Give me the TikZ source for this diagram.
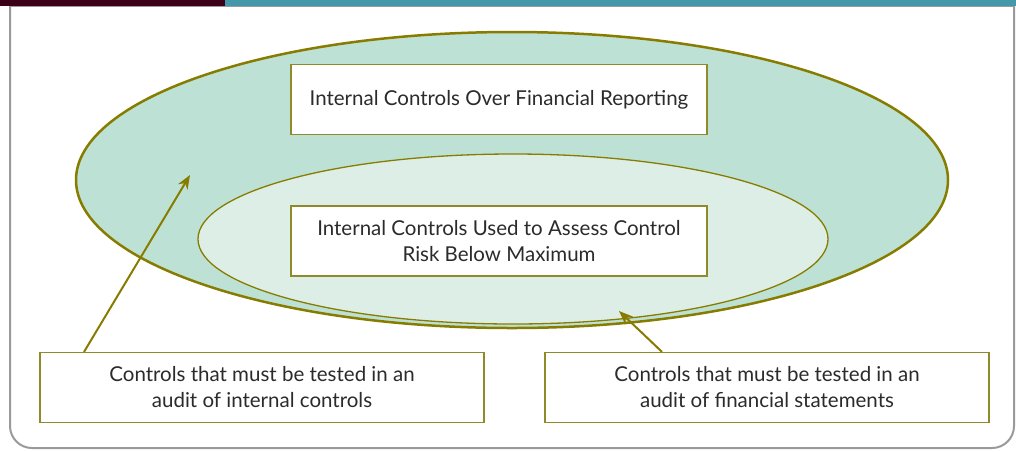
\documentclass[tikz,border=0pt]{standalone}
\usepackage{fontspec}
\setmainfont{Lato}
\usetikzlibrary{arrows.meta,shapes.geometric}
\definecolor{olive}{HTML}{877C00}
\definecolor{boxline}{HTML}{8F8A2A}
\definecolor{outerfill}{HTML}{BDE2D5}
\definecolor{innerfill}{HTML}{DDEEE6}
\definecolor{maroon}{HTML}{3E0019}
\definecolor{tealbar}{HTML}{4398A9}
\definecolor{txt}{HTML}{2B2B2B}
\definecolor{framegray}{HTML}{9A9A9A}
\tikzset{
  textbox/.style={draw=boxline, line width=1.2pt, fill=white, text=txt, align=center,
    font=\fontsize{20.5}{26}\selectfont, inner sep=0pt},
  conn/.style={draw=olive, line width=2pt, -{Stealth[length=14pt,width=11pt]}},
}
\begin{document}
\begin{tikzpicture}[x=1pt,y=-1pt]
\useasboundingbox (0,0) rectangle (1016,451);
% frame
\draw[framegray, line width=2pt, rounded corners=22pt] (10,6) -- (10,448) -- (1014,448) -- (1014,6);
\fill[maroon] (0,0) rectangle (225,5.5);
\fill[tealbar] (225,0) rectangle (1016,5.5);
\draw[framegray, line width=1pt] (10,6) -- (1014,6);
% ellipses
\node[draw=olive, line width=2.5pt, fill=outerfill, ellipse, minimum width=872pt, minimum height=296pt, inner sep=0pt] (outer) at (512,180) {};
\node[draw=olive, line width=1.3pt, fill=innerfill, ellipse, minimum width=630pt, minimum height=170pt, inner sep=0pt] (inner) at (513,239) {};
% boxes
\node[textbox, minimum width=416pt, minimum height=70pt] (icfr) at (499,99.5) {Internal Controls Over Financial Reporting};
\node[textbox, minimum width=416pt, minimum height=70pt] (used) at (499,241) {Internal Controls Used to Assess Control\\Risk Below Maximum};
\node[textbox, minimum width=444pt, minimum height=70pt] (auditic) at (262,387.5) {Controls that must be tested in an\\audit of internal controls};
\node[textbox, minimum width=444pt, minimum height=70pt] (auditfs) at (767,387.5) {Controls that must be tested in an\\audit of financial statements};
% arrows
\coordinate (t1) at (190,175);
\coordinate (t2) at (619,311);
\draw[conn] (auditic.north -| 84,0) -- (t1);
\draw[conn] (auditfs.north -| 662,0) -- (t2);
\end{tikzpicture}
\end{document}
